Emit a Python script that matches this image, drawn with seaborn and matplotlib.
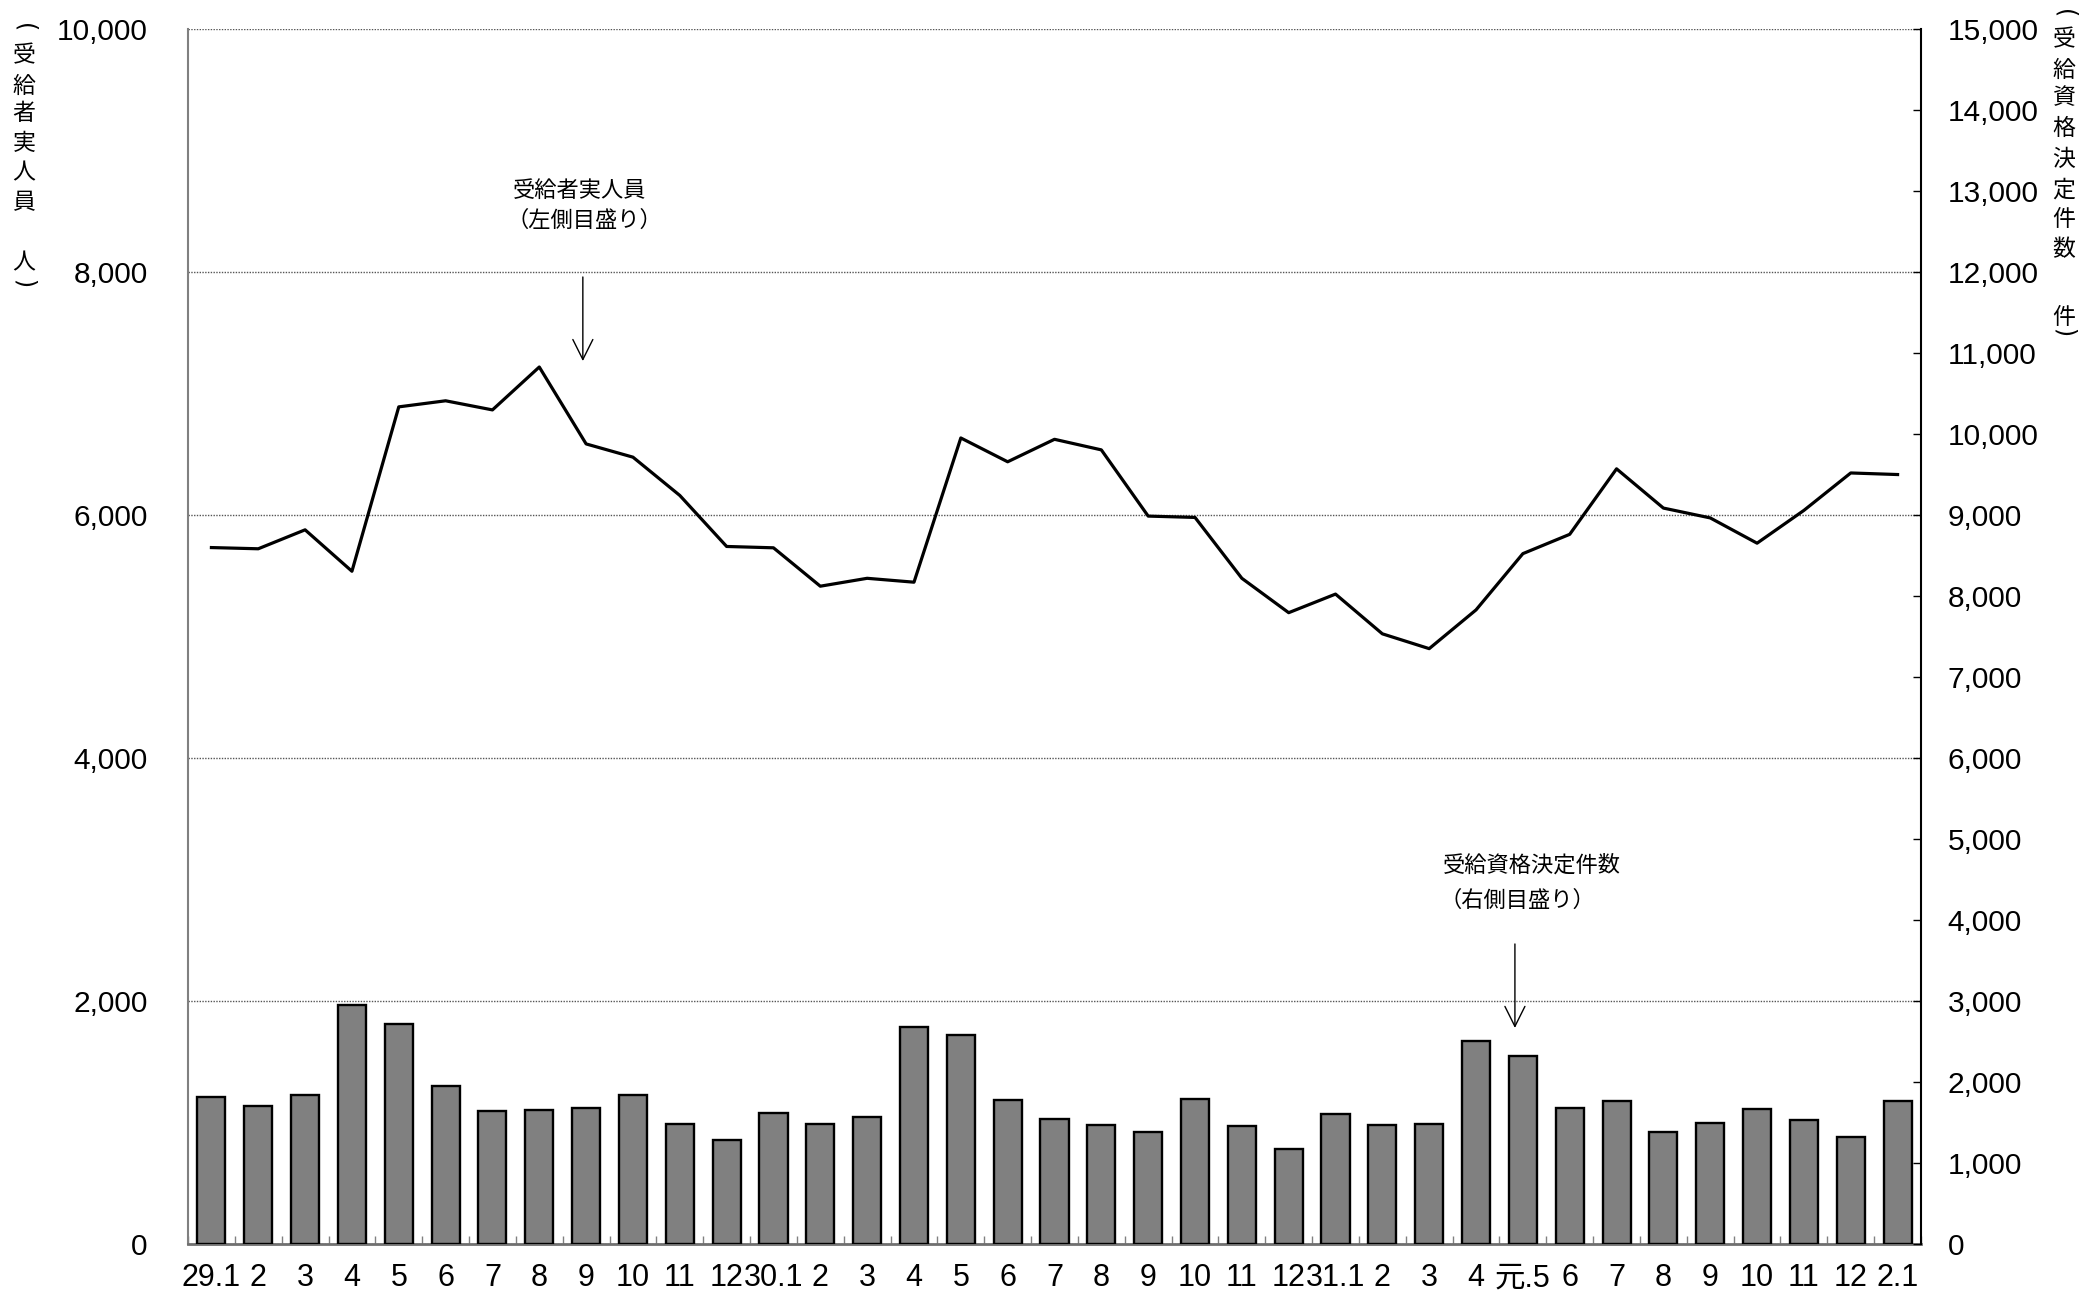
import numpy as np
import pandas as pd
import matplotlib
matplotlib.use("Agg")
import matplotlib.pyplot as plt
from matplotlib import font_manager as fm
import seaborn as sns

# ---------------- data ----------------
months = ["29.1", "2", "3", "4", "5", "6", "7", "8", "9", "10", "11", "12",
          "30.1", "2", "3", "4", "5", "6", "7", "8", "9", "10", "11", "12",
          "31.1", "2", "3", "4", "元.5", "6", "7", "8", "9", "10", "11", "12",
          "2.1"]
# 受給者実人員 (left axis, persons)
recipients = [5732, 5722, 5878, 5537, 6890, 6940, 6865, 7218, 6585, 6476, 6161, 5741,
              5730, 5414, 5479, 5447, 6634, 6438, 6623, 6536, 5991, 5980, 5479, 5196,
              5349, 5022, 4900, 5219, 5682, 5841, 6380, 6057, 5976, 5768, 6038, 6346,
              6333]
# 受給資格決定件数 (right axis, cases)
decisions = [1816, 1705, 1845, 2951, 2712, 1948, 1644, 1652, 1677, 1845, 1484, 1282,
             1623, 1484, 1562, 2684, 2581, 1779, 1545, 1475, 1381, 1792, 1459, 1167,
             1603, 1475, 1479, 2507, 2326, 1677, 1763, 1385, 1492, 1668, 1537, 1315,
             1763]
left_ticks = [0, 2000, 4000, 6000, 8000, 10000]
right_ticks = list(range(0, 15001, 1000))
left_label = ["(", "受", "給", "者", "実", "人", "員", "人", ")"]
right_label = ["(", "受", "給", "資", "格", "決", "定", "件", "数", "件", ")"]

# ---------------- fonts ----------------
avail = {f.name for f in fm.fontManager.ttflist}
NUM_FONT = "Liberation Sans Narrow" if "Liberation Sans Narrow" in avail else "Liberation Sans"
CJK = "Noto Sans CJK JP"
plt.rcParams["font.family"] = [NUM_FONT, CJK, "DejaVu Sans"]

W, H = 2079, 1295
fig = plt.figure(figsize=(W / 100, H / 100), dpi=100)
ax = fig.add_axes([188 / W, 1 - 1244 / H, (1921 - 188) / W, (1244 - 29) / H])
ax2 = ax.twinx()

idx = np.arange(len(months))
df = pd.DataFrame({"idx": idx, "month": months, "recipients": recipients,
                   "decisions": decisions})

# bars (right axis)
sns.barplot(data=df, x="idx", y="decisions", ax=ax2, color="#808080",
            saturation=1, edgecolor="black", linewidth=1.7, width=0.6)
# line (left axis)
sns.lineplot(data=df, x="idx", y="recipients", ax=ax, color="black",
             linewidth=2.3)

ax.set_xlim(-0.5, len(months) - 0.5)
ax.set_ylim(0, 10000)
ax2.set_ylim(0, 15000)

ax.set_yticks(left_ticks)
ax.set_yticklabels([f"{v:,}" for v in left_ticks])
ax2.set_yticks(right_ticks)
ax2.set_yticklabels([f"{v:,}" for v in right_ticks])
ax.set_xticks(idx)
ax.set_xticklabels(months)
ax.set_xticks(np.arange(-0.5, len(months), 1.0), minor=True)

for a in (ax, ax2):
    a.set_xlabel("")
    a.set_ylabel("")

ax.tick_params(axis="x", which="major", length=0, pad=14, labelsize=22)
ax.tick_params(axis="x", which="minor", direction="in", length=6,
               color="#808080", width=1)
ax.tick_params(axis="y", length=0, pad=29, labelsize=21.5)
ax2.tick_params(axis="y", direction="in", length=5.5, pad=19, labelsize=21.5,
                color="black", width=1)

ax.yaxis.grid(True, linestyle=(0, (1, 1)), color="#555555", linewidth=1)
ax.set_axisbelow(True)

ax.spines["top"].set_visible(False)
ax2.spines["top"].set_visible(False)
ax.spines["right"].set_visible(False)
ax2.spines["left"].set_visible(False)
ax2.spines["bottom"].set_visible(False)
ax.spines["left"].set_color("#808080")
ax.spines["left"].set_linewidth(1.5)
ax.spines["bottom"].set_color("#707070")
ax.spines["bottom"].set_linewidth(2)
ax2.spines["right"].set_color("black")
ax2.spines["right"].set_linewidth(1.5)

# annotations
afs = 16
ax.text(6.44, 8675, "受給者実人員", fontsize=afs, family=[CJK], ha="left", va="center")
ax.text(6.31, 8428, "（左側目盛り）", fontsize=afs, family=[CJK], ha="left", va="center")
ax.annotate("", xy=(7.93, 7267), xytext=(7.93, 7959),
            arrowprops=dict(arrowstyle="->,head_length=1.44,head_width=0.72",
                            color="black", lw=1, shrinkA=0, shrinkB=0,
                            mutation_scale=10))
ax2.text(26.29, 4679, "受給資格決定件数", fontsize=afs, family=[CJK], ha="left", va="center")
ax2.text(26.21, 4247, "（右側目盛り）", fontsize=afs, family=[CJK], ha="left", va="center")
ax2.annotate("", xy=(27.83, 2667), xytext=(27.83, 3704),
             arrowprops=dict(arrowstyle="->,head_length=1.44,head_width=0.72",
                             color="black", lw=1, shrinkA=0, shrinkB=0,
                             mutation_scale=10))

# vertical axis titles (one character per line)
def vlabel(chars, x_px, y_px):
    for ch, y in zip(chars, y_px):
        if ch in "()":
            fig.text(x_px / W, 1 - y / H, ch, fontsize=17, family=["DejaVu Sans"],
                     rotation=-90, ha="center", va="center")
        else:
            fig.text(x_px / W, 1 - y / H, ch, fontsize=16.5, family=[CJK],
                     ha="center", va="center")

vlabel(left_label, 24, [28, 56, 86, 114, 143, 173, 203, 263, 284])
vlabel(right_label, 2064, [14, 40, 70, 98, 128, 159, 190, 220, 250, 317, 333])

fig.savefig("out.png", dpi=100)
